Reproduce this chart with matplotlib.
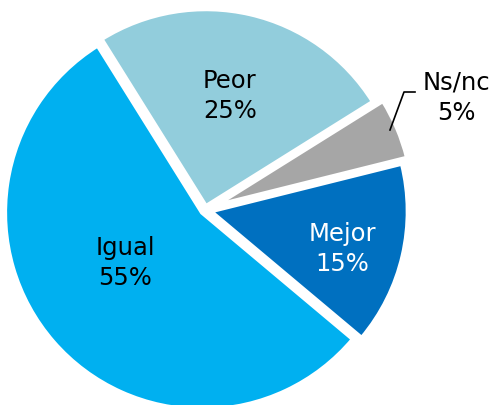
import matplotlib.pyplot as plt

# Data
labels = ["Mejor", "Ns/nc", "Peor", "Igual"]
values = [15, 5, 25, 55]
colors = ["#0070C0", "#A6A6A6", "#92CDDC", "#00B0F0"]
explode = [0.03, 0.06, 0.02, 0.02]

# pixel -> data helper (radius 1 == 197 px, centre at px (205, 210))
S = 197.0
def pt(px, py):
    return ((px - 205) / S, (210 - py) / S)

fig = plt.figure(figsize=(4.95, 4.05), dpi=100)
ax = fig.add_axes([0, 0, 1, 1])

wedges, _ = ax.pie(values, colors=colors, explode=explode, startangle=-40,
                   counterclock=True, radius=1.0,
                   wedgeprops=dict(edgecolor="white", linewidth=3))

ax.set_xlim(-205 / S, 290 / S)
ax.set_ylim(-195 / S, 210 / S)
ax.set_aspect("equal")
ax.axis("off")

# Labels
fs = 17.5
txt_pos = {"Mejor": (342, 249), "Ns/nc": (456, 98), "Peor": (230, 96), "Igual": (125, 263)}
txt_col = {"Mejor": "white", "Ns/nc": "black", "Peor": "black", "Igual": "black"}
for lab, v in zip(labels, values):
    x, y = pt(*txt_pos[lab])
    ax.text(x, y, f"{lab}\n{v}%", ha="center", va="center", fontsize=fs,
            color=txt_col[lab], linespacing=1.35)

# leader line for Ns/nc
xs, ys = zip(pt(390, 130), pt(404, 92), pt(415, 92))
ax.plot(xs, ys, color="black", lw=1.2)

fig.savefig("out.png", dpi=100)
